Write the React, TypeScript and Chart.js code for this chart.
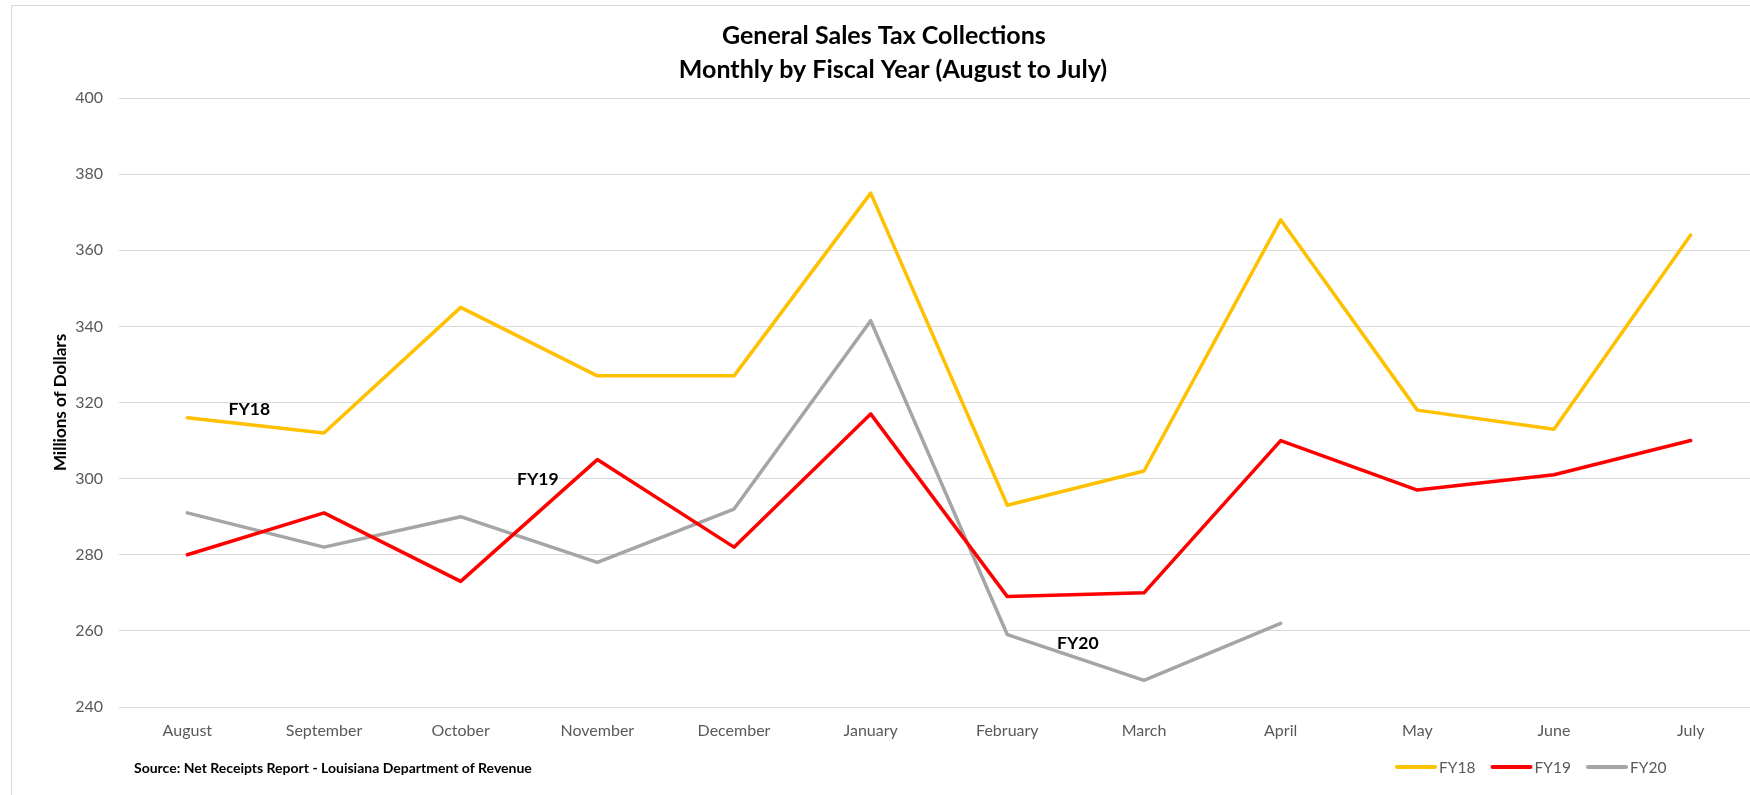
import React, { useEffect, useRef } from 'react';
import { Chart, registerables } from 'chart.js';

Chart.register(...registerables);

const months = ['August', 'September', 'October', 'November', 'December', 'January', 'February', 'March', 'April', 'May', 'June', 'July'];
const fy18 = [316, 312, 345, 327, 327, 375, 293, 302, 368, 318, 313, 364];
const fy19 = [280, 291, 273, 305, 282, 317, 269, 270, 310, 297, 301, 310];
const fy20 = [291, 282, 290, 278, 292, 341.5, 259, 247, 262, null, null, null];
const seriesNames = ['FY18', 'FY19', 'FY20'];
const seriesColors = ['#FFC000', '#FF0000', '#A5A5A5'];
const yMin = 240;
const yMax = 400;
const yStep = 20;
const labelIndex = [0.454, 2.565, 6.516];
const labelValue = [318.3, 299.9, 256.6];
const titleLines = ['General Sales Tax Collections   ', 'Monthly by Fiscal Year (August to July)'];
const yTitle = 'Millions of Dollars';
const sourceText = 'Source: Net Receipts Report - Louisiana Department of Revenue';

const FONT = 'Lato, "Open Sans", sans-serif';

const extras = {
  id: 'extras',
  afterDatasetsDraw(chart: any) {
    const ctx = chart.ctx;
    const xs = chart.scales.x;
    const ys = chart.scales.y;
    ctx.save();
    ctx.font = `bold 17.5px ${FONT}`;
    ctx.fillStyle = '#000';
    ctx.textAlign = 'center';
    ctx.textBaseline = 'middle';
    seriesNames.forEach((n, i) => {
      ctx.fillText(n, xs.getPixelForValue(labelIndex[i]), ys.getPixelForValue(labelValue[i]));
    });
    ctx.restore();
  },
  afterDraw(chart: any) {
    const ctx = chart.ctx;
    ctx.save();
    ctx.font = `bold 14px ${FONT}`;
    ctx.fillStyle = '#000';
    ctx.textAlign = 'left';
    ctx.textBaseline = 'middle';
    ctx.fillText(sourceText, 122, 762);

    ctx.font = `15.5px ${FONT}`;
    ctx.fillStyle = '#595959';
    chart.data.datasets.forEach((ds: any, i: number) => {
      const x0 = 1385 + i * 95.5;
      const y0 = 761;
      ctx.strokeStyle = ds.borderColor;
      ctx.lineWidth = 4;
      ctx.lineCap = 'round';
      ctx.beginPath();
      ctx.moveTo(x0, y0);
      ctx.lineTo(x0 + 38, y0);
      ctx.stroke();
      ctx.fillText(ds.label, x0 + 42, y0 + 1);
    });
    ctx.restore();
  },
};

export default function App() {
  const ref = useRef<HTMLCanvasElement | null>(null);

  useEffect(() => {
    if (!ref.current) return;
    const datasets = [fy18, fy19, fy20].map((d, i) => ({
      label: seriesNames[i],
      data: d,
      borderColor: seriesColors[i],
      backgroundColor: seriesColors[i],
      borderWidth: 3.5,
      pointRadius: 0,
      pointHoverRadius: 0,
      tension: 0,
      fill: false,
      spanGaps: false,
      borderCapStyle: 'round',
      borderJoinStyle: 'round',
    }));
    const chart = new Chart(ref.current, {
      type: 'line',
      data: { labels: months, datasets: datasets as any },
      options: {
        responsive: false,
        animation: false,
        devicePixelRatio: 1,
        layout: { padding: { left: 15, right: 15, top: 0, bottom: 0 } },
        plugins: {
          legend: { display: false },
          tooltip: { enabled: false },
          title: {
            display: true,
            text: titleLines,
            color: '#000',
            font: { family: FONT, size: 25, weight: 'bold', lineHeight: '34px' },
            padding: { top: 13, bottom: 11 },
          },
        },
        scales: {
          x: {
            type: 'category',
            offset: true,
            grid: { display: false, drawTicks: false },
            border: { display: false },
            ticks: {
              color: '#595959',
              font: { family: FONT, size: 16 },
              padding: 14,
              maxRotation: 0,
              autoSkip: false,
            },
            afterFit(scale: any) {
              scale.height = 99;
            },
          },
          y: {
            min: yMin,
            max: yMax,
            grid: { color: '#d9d9d9', lineWidth: 1, drawTicks: false },
            border: { display: false },
            ticks: {
              stepSize: yStep,
              color: '#595959',
              font: { family: FONT, size: 16 },
              padding: 16,
            },
            title: {
              display: true,
              text: yTitle,
              color: '#000',
              font: { family: FONT, size: 17, weight: 'bold', lineHeight: '20px' },
              padding: { top: 24, bottom: 0 },
            },
            afterFit(scale: any) {
              scale.width = 92;
            },
          },
        },
      } as any,
      plugins: [extras],
    });
    return () => chart.destroy();
  }, []);

  return (
    <div style={{ position: 'fixed', left: 0, top: 0, width: 1750, height: 795, overflow: 'hidden', background: '#fff' }}>
      <div
        style={{
          position: 'absolute',
          left: 11,
          top: 5,
          width: 1762,
          height: 800,
          borderLeft: '1px solid #d9d9d9',
          borderTop: '1px solid #d9d9d9',
        }}
      >
        <canvas ref={ref} width={1762} height={800} style={{ display: 'block', width: 1762, height: 800 }} />
      </div>
    </div>
  );
}
